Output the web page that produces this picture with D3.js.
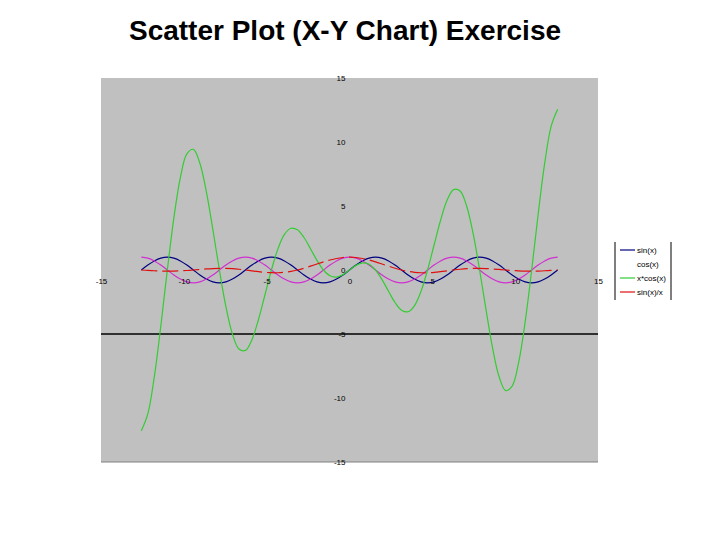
<!DOCTYPE html>
<html><head><meta charset="utf-8">
<script src="https://cdn.jsdelivr.net/npm/d3@7"></script>
<style>body{margin:0;background:#fff}svg{display:block}</style>
</head><body><svg id="c" width="720" height="540"></svg>
<script>
const title = "Scatter Plot (X-Y Chart) Exercise";
const xs = [-12.566,-12.174,-11.781,-11.388,-10.996,-10.603,-10.210,-9.817,-9.425,-9.032,-8.639,-8.247,-7.854,-7.461,-7.069,-6.676,-6.283,-5.890,-5.498,-5.105,-4.712,-4.320,-3.927,-3.534,-3.142,-2.749,-2.356,-1.963,-1.571,-1.178,-0.785,-0.393,0,0.393,0.785,1.178,1.571,1.963,2.356,2.749,3.142,3.534,3.927,4.320,4.712,5.105,5.498,5.890,6.283,6.676,7.069,7.461,7.854,8.247,8.639,9.032,9.425,9.817,10.210,10.603,10.996,11.388,11.781,12.174,12.566];
const sinX = [0,0.383,0.707,0.924,1,0.924,0.707,0.383,0,-0.383,-0.707,-0.924,-1,-0.924,-0.707,-0.383,0,0.383,0.707,0.924,1,0.924,0.707,0.383,0,-0.383,-0.707,-0.924,-1,-0.924,-0.707,-0.383,0,0.383,0.707,0.924,1,0.924,0.707,0.383,0,-0.383,-0.707,-0.924,-1,-0.924,-0.707,-0.383,0,0.383,0.707,0.924,1,0.924,0.707,0.383,0,-0.383,-0.707,-0.924,-1,-0.924,-0.707,-0.383,0];
const cosX = [1,0.924,0.707,0.383,0,-0.383,-0.707,-0.924,-1,-0.924,-0.707,-0.383,0,0.383,0.707,0.924,1,0.924,0.707,0.383,0,-0.383,-0.707,-0.924,-1,-0.924,-0.707,-0.383,0,0.383,0.707,0.924,1,0.924,0.707,0.383,0,-0.383,-0.707,-0.924,-1,-0.924,-0.707,-0.383,0,0.383,0.707,0.924,1,0.924,0.707,0.383,0,-0.383,-0.707,-0.924,-1,-0.924,-0.707,-0.383,0,0.383,0.707,0.924,1];
const xCosX = [-12.566,-11.247,-8.330,-4.358,0,4.058,7.220,9.070,9.425,8.345,6.109,3.156,0,-2.855,-4.998,-6.168,-6.283,-5.442,-3.888,-1.954,0,1.653,2.777,3.265,3.142,2.540,1.666,0.751,0,-0.451,-0.555,-0.363,0,0.363,0.555,0.451,0,-0.751,-1.666,-2.540,-3.142,-3.265,-2.777,-1.653,0,1.954,3.888,5.442,6.283,6.168,4.998,2.855,0,-3.156,-6.109,-8.345,-9.425,-9.070,-7.220,-4.058,0,4.358,8.330,11.247,12.566];
const sinXoverX = [0,-0.031,-0.060,-0.081,-0.091,-0.087,-0.069,-0.039,0,0.042,0.082,0.112,0.127,0.124,0.100,0.057,0,-0.065,-0.129,-0.181,-0.212,-0.214,-0.180,-0.108,0,0.139,0.300,0.471,0.637,0.784,0.900,0.975,1,0.975,0.900,0.784,0.637,0.471,0.300,0.139,0,-0.108,-0.180,-0.214,-0.212,-0.181,-0.129,-0.065,0,0.057,0.100,0.124,0.127,0.112,0.082,0.042,0,-0.039,-0.069,-0.087,-0.091,-0.081,-0.060,-0.031,0];
const seriesNames = ["sin(x)","cos(x)","x*cos(x)","sin(x)/x"];
const xTicks = [-15,-10,-5,0,5,10,15];
const yTicks = [-15,-10,-5,0,5,10,15];
const markerLineY = -5;

const series = [
  {name: seriesNames[0], vals: sinX, color: "#000080", dash: null, legend: true},
  {name: seriesNames[1], vals: cosX, color: "#d030d0", dash: null, legend: false},
  {name: seriesNames[2], vals: xCosX, color: "#33cc33", dash: null, legend: true},
  {name: seriesNames[3], vals: sinXoverX, color: "#e01010", dash: "16,5", legend: true}
];

const svg = d3.select("#c");
const L = 101, R = 598, T = 78, B = 462;
const x = d3.scaleLinear().domain([-15,15]).range([L,R]);
const y = d3.scaleLinear().domain([-15,15]).range([B,T]);
const fmt = d => String(d);

svg.append("text").attr("x",345).attr("y",40).attr("text-anchor","middle")
  .attr("font-family","Liberation Sans, Arial, sans-serif").attr("font-weight","bold")
  .attr("font-size",28).text(title);

svg.append("rect").attr("x",L).attr("y",T).attr("width",R-L).attr("height",B-T).attr("fill","#c0c0c0");
svg.append("line").attr("x1",L).attr("x2",R).attr("y1",B).attr("y2",B).attr("stroke","#808080").attr("stroke-width",1);

svg.append("line").attr("x1",L).attr("x2",R).attr("y1",y(markerLineY)).attr("y2",y(markerLineY))
  .attr("stroke","#000").attr("stroke-width",1.5);

const line = d3.line().curve(d3.curveCatmullRom.alpha(0.5));
series.forEach(s => {
  const pts = xs.map((xv,i) => [x(xv), y(s.vals[i])]);
  svg.append("path").attr("d", line(pts)).attr("fill","none")
    .attr("stroke", s.color).attr("stroke-width",1.2)
    .attr("stroke-dasharray", s.dash);
});

const yAxis = d3.axisLeft(y).tickValues(yTicks).tickSize(0).tickPadding(3).tickFormat(fmt);
const gy = svg.append("g").attr("transform",`translate(${x(0)-1},0)`).call(yAxis);
gy.select(".domain").remove();
gy.selectAll("text").attr("font-family","Liberation Sans, Arial, sans-serif").attr("font-size",8).attr("fill","#000");

const xAxis = d3.axisBottom(x).tickValues(xTicks).tickSize(0).tickPadding(8).tickFormat(fmt);
const gx = svg.append("g").attr("transform",`translate(0,${y(0)})`).call(xAxis);
gx.select(".domain").remove();
gx.selectAll("text").attr("font-family","Liberation Sans, Arial, sans-serif").attr("font-size",8).attr("fill","#000");

const lg = svg.append("g");
lg.append("line").attr("x1",615).attr("x2",615).attr("y1",242).attr("y2",300).attr("stroke","#000");
lg.append("line").attr("x1",671).attr("x2",671).attr("y1",242).attr("y2",300).attr("stroke","#000");
const ly = d3.scalePoint().domain(seriesNames).range([250,292]);
series.forEach(s => {
  if (s.legend) lg.append("line").attr("x1",620).attr("x2",635).attr("y1",ly(s.name)).attr("y2",ly(s.name))
    .attr("stroke", s.color).attr("stroke-width",1.2);
  lg.append("text").attr("x",637).attr("y",ly(s.name)).attr("dy","0.35em")
    .attr("font-family","Liberation Sans, Arial, sans-serif").attr("font-size",8).text(s.name);
});
</script></body></html>
